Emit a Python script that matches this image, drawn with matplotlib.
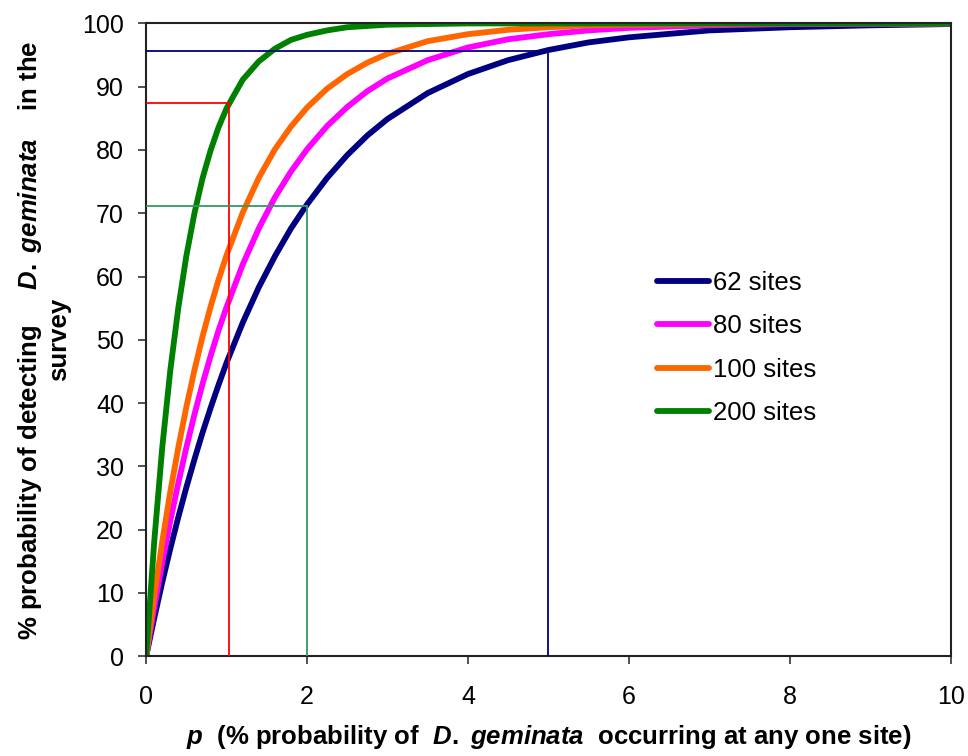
import matplotlib.pyplot as plt

plt.rcParams['font.family'] = ['Liberation Sans', 'DejaVu Sans']
plt.rcParams['mathtext.fontset'] = 'custom'
plt.rcParams['mathtext.it'] = 'Liberation Sans:italic:bold'
plt.rcParams['mathtext.rm'] = 'Liberation Sans:bold'

# p (%) at which the curves were read
p = [0, 0.1, 0.2, 0.3, 0.4, 0.5, 0.6, 0.7, 0.8, 0.9, 1.0, 1.2, 1.4, 1.6, 1.8,
     2.0, 2.25, 2.5, 2.75, 3.0, 3.5, 4.0, 4.5, 5.0, 5.5, 6.0, 7.0, 8.0, 9.0, 10.0]

sites_62 = [0, 6.0, 11.7, 17.0, 22.0, 26.7, 31.1, 35.3, 39.2, 42.9, 46.4, 52.7, 58.3,
            63.2, 67.6, 71.4, 75.6, 79.2, 82.3, 84.9, 89.0, 92.0, 94.2, 95.8, 97.0,
            97.8, 98.9, 99.4, 99.7, 99.9]
sites_80 = [0, 7.7, 14.8, 21.4, 27.4, 33.0, 38.2, 43.0, 47.4, 51.5, 55.2, 61.9, 67.6,
            72.5, 76.6, 80.1, 83.8, 86.8, 89.3, 91.3, 94.2, 96.2, 97.5, 98.3, 98.9,
            99.3, 99.7, 99.9, 99.95, 99.98]
sites_100 = [0, 9.5, 18.1, 26.0, 33.0, 39.4, 45.2, 50.5, 55.2, 59.5, 63.4, 70.1, 75.6,
             80.1, 83.7, 86.7, 89.7, 92.0, 93.8, 95.2, 97.2, 98.3, 99.0, 99.4, 99.7,
             99.8, 99.9, 100.0, 100.0, 100.0]
sites_200 = [0, 18.1, 33.0, 45.2, 55.1, 63.3, 70.0, 75.5, 79.9, 83.6, 86.6, 91.1, 94.0,
             96.0, 97.4, 98.2, 98.9, 99.4, 99.6, 99.8, 99.9, 100.0, 100.0, 100.0, 100.0,
             100.0, 100.0, 100.0, 100.0, 100.0]

labels = ['62 sites', '80 sites', '100 sites', '200 sites']
colors = ['#000080', '#FF00FF', '#FF6600', '#008000']

# guide lines: (p, detection %, colour)
guide_p = [5.0, 1.03, 2.0]
guide_y = [95.7, 87.5, 71.1]
guide_colors = ['#000080', '#FF0000', '#339966']

fig = plt.figure(figsize=(9.68, 7.56), dpi=100)
ax = fig.add_axes([0.151, 0.132, 0.831, 0.837])

for ys, lab, c in zip([sites_62, sites_80, sites_100, sites_200], labels, colors):
    ax.plot(p, ys, color=c, lw=4.2, label=lab, solid_capstyle='round', solid_joinstyle='round')

for gx, gy, c in zip(guide_p, guide_y, guide_colors):
    ax.plot([0, gx], [gy, gy], color=c, lw=1.3, zorder=5)
    ax.plot([gx, gx], [0, gy], color=c, lw=1.3, zorder=5)

ax.set_xlim(0, 10)
ax.set_ylim(0, 100)
ax.set_xticks(range(0, 11, 2))
ax.set_yticks(range(0, 101, 10))
ax.tick_params(axis='both', direction='out', length=6, width=1.2, labelsize=18, color='#333333')
ax.tick_params(axis='x', pad=15)
ax.tick_params(axis='y', pad=10)
for s in ax.spines.values():
    s.set_linewidth(1.5)
    s.set_color('#222222')

ax.set_xlabel(r'$p$  (% probability of  $D.$ $geminata$  occurring at any one site)',
              fontsize=18.5, fontweight='bold', labelpad=10)
ax.set_ylabel('% probability of detecting     $D.$ $geminata$    in the\nsurvey',
              fontsize=18.5, fontweight='bold', labelpad=8, linespacing=1.15)

ax.legend(loc='upper left', bbox_to_anchor=(0.606, 0.645), frameon=False, fontsize=18.5,
          handlelength=2.05, handletextpad=0.15, labelspacing=0.75)

fig.savefig('out.png', dpi=100)
